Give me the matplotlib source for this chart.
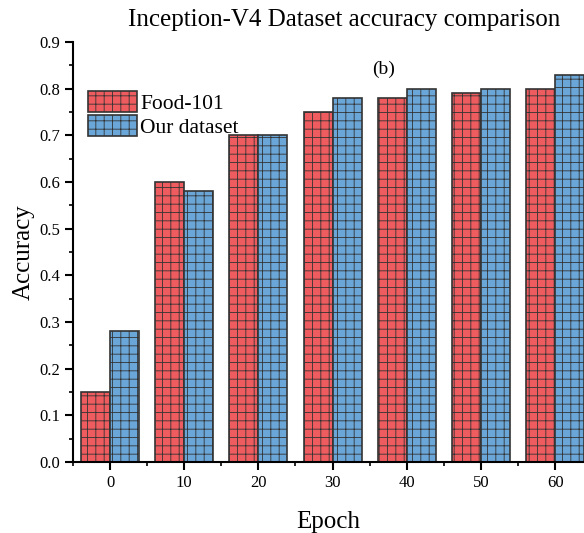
import numpy as np
import matplotlib.pyplot as plt
from matplotlib.ticker import MultipleLocator

epochs = [0, 10, 20, 30, 40, 50, 60]
food101 = [0.15, 0.60, 0.70, 0.75, 0.78, 0.79, 0.80]
our_dataset = [0.28, 0.58, 0.70, 0.78, 0.80, 0.80, 0.83]

plt.rcParams['font.family'] = ['Liberation Serif', 'DejaVu Serif']
plt.rcParams['hatch.color'] = '#3a3a3a'
plt.rcParams['hatch.linewidth'] = 0.6

fig = plt.figure(figsize=(5.84, 5.33), dpi=100)
ax = fig.add_axes([0.125, 0.133, 0.875, 0.788])

x = np.array(epochs)
w = 3.9
ax.bar(x - w / 2, food101, width=w, color='#ee5c60', edgecolor='#333333',
       linewidth=1.2, hatch='++', label='Food-101')
ax.bar(x + w / 2, our_dataset, width=w, color='#6aa6d8', edgecolor='#333333',
       linewidth=1.2, hatch='++', label='Our dataset')

ax.set_xlim(-5, 63.9)
ax.set_ylim(0, 0.9)
ax.xaxis.set_major_locator(MultipleLocator(10))
ax.xaxis.set_minor_locator(MultipleLocator(5))
ax.yaxis.set_major_locator(MultipleLocator(0.1))
ax.yaxis.set_minor_locator(MultipleLocator(0.05))
ax.yaxis.set_major_formatter(plt.FormatStrFormatter('%.1f'))

for s in ['top', 'right']:
    ax.spines[s].set_visible(False)
for s in ['left', 'bottom']:
    ax.spines[s].set_linewidth(1.5)
ax.tick_params(which='major', direction='out', length=6, width=1.5, labelsize=12)
ax.tick_params(which='minor', direction='out', length=3, width=1.2)

ax.set_xlabel('Epoch', fontsize=18, labelpad=14)
ax.set_ylabel('Accuracy', fontsize=18, labelpad=3)
fig.text(0.59, 0.962, 'Inception-V4 Dataset accuracy comparison', fontsize=18,
         ha='center', va='center')
ax.text(0.607, 0.935, '(b)', transform=ax.transAxes, fontsize=14,
        ha='center', va='center')

ax.legend(loc='upper left', bbox_to_anchor=(-0.005, 0.925), frameon=False,
          fontsize=15.5, handlelength=2.3, handleheight=1.15, handletextpad=0.15,
          labelspacing=0.05, borderaxespad=0.5, borderpad=0.3)

fig.savefig('out.png', dpi=100)
